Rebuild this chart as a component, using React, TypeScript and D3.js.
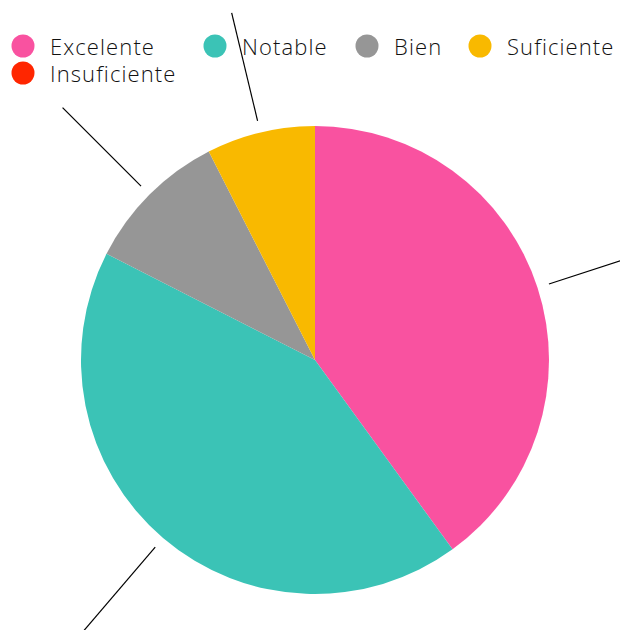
import React from "react";
import * as d3 from "d3";

const categories = ["Excelente", "Notable", "Bien", "Suficiente", "Insuficiente"];
const values = [16, 17, 4, 3, 0];
const colors = ["#f952a0", "#3bc3b6", "#969696", "#f9b900", "#ff2600"];

const W = 620;
const H = 630;
const CX = 315;
const CY = 360;
const R = 234;
const LINE_IN = 246;
const LINE_OUT = 357;

const legendRows = [
  [
    { i: 0, x: 23 },
    { i: 1, x: 215 },
    { i: 2, x: 367 },
    { i: 3, x: 480 },
  ],
  [{ i: 4, x: 23 }],
];

export default function App() {
  const data = categories.map((c, i) => ({ name: c, value: values[i], color: colors[i] }));
  const pie = d3.pie<any>().value((d) => d.value).sort(null);
  const arcs = pie(data);
  const arc = d3.arc<any>().innerRadius(0).outerRadius(R);

  return (
    <svg
      width={W}
      height={H}
      style={{ position: "absolute", left: 0, top: 0, fontFamily: "'Open Sans', Lato, sans-serif" }}
    >
      <rect width={W} height={H} fill="#fff" />
      <g transform={`translate(${CX},${CY})`}>
        {arcs.map((a, k) => (
          <path key={k} d={arc(a) || ""} fill={a.data.color} />
        ))}
        {arcs
          .filter((a) => a.value > 0)
          .map((a, k) => {
            const m = (a.startAngle + a.endAngle) / 2;
            const s = Math.sin(m);
            const c = -Math.cos(m);
            return (
              <line
                key={k}
                x1={LINE_IN * s}
                y1={LINE_IN * c}
                x2={LINE_OUT * s}
                y2={LINE_OUT * c}
                stroke="#000"
                strokeWidth={1.2}
              />
            );
          })}
      </g>
      {legendRows.map((row, r) =>
        row.map((it) => (
          <g key={`${r}-${it.i}`} transform={`translate(${it.x},${46 + r * 27})`}>
            <circle r={11.5} fill={colors[it.i]} />
            <text x={27} y={8.5} fontSize={22} fontWeight={300} letterSpacing={1.1} fill="#111">
              {categories[it.i]}
            </text>
          </g>
        ))
      )}
    </svg>
  );
}
